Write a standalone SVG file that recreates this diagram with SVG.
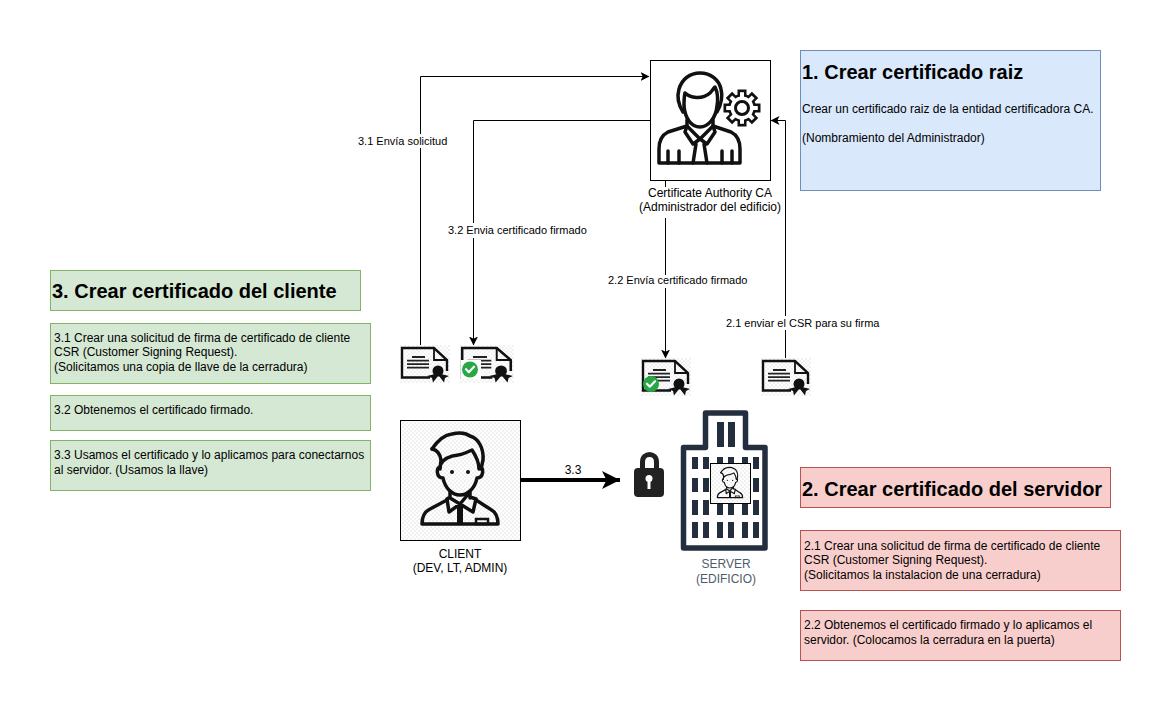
<svg xmlns="http://www.w3.org/2000/svg" width="1171" height="714" viewBox="0 0 1171 714">
<style>
text{font-family:"Liberation Sans",Arial,sans-serif;font-size:12px;fill:#000}
.t{font-size:20px;font-weight:bold}
.l{font-size:11px}
.m{text-anchor:middle}
.blue{fill:#dae8fc;stroke:#6c8ebf}
.green{fill:#d5e8d4;stroke:#82b366}
.red{fill:#f8cecc;stroke:#b85450}
.edge{fill:none;stroke:#000;stroke-width:1}
.ic{fill:none;stroke:#111;stroke-width:3.5;stroke-linejoin:round;stroke-linecap:round}
.win{fill:#232f3e}
</style>
<defs>
<pattern id="chk" width="4" height="4" patternUnits="userSpaceOnUse">
<rect width="4" height="4" fill="#fff"/><rect width="2" height="2" fill="#f1f1f1"/><rect x="2" y="2" width="2" height="2" fill="#f1f1f1"/>
</pattern>
<marker id="arr" markerWidth="10" markerHeight="10" refX="8.500" refY="4.500" orient="auto" markerUnits="userSpaceOnUse">
<path d="M0 0L9 4.500L0 9L2.200 4.500Z" fill="#000"/>
</marker>
<marker id="arrB" markerWidth="20" markerHeight="20" refX="18" refY="9" orient="auto" markerUnits="userSpaceOnUse">
<path d="M0 0L18 9L0 18L4.500 9Z" fill="#000"/>
</marker>
<g id="person">
<path class="ic" d="M32 29C38 20 44 15 52 14C60 12 66 13 70 16C78 18 84 28 83 40L81 49"/>
<path class="ic" d="M32 29C38 30 40 34 41 40L40 49M41 44C44 38 50 36 58 35C64 34 70 31 72 30C76 36 79 42 79 49"/>
<path class="ic" d="M40 47C36 47 36 58 43 58C45 68 52 75 60 75C68 75 75 68 77 58C84 58 84 47 80 47"/>
<circle cx="52" cy="52" r="2" fill="#111"/><circle cx="68" cy="52" r="2" fill="#111"/>
<path class="ic" d="M50 72L50 78L60 84L70 72M70 72L70 78M50 77L47 79L49 92L60 84L73 92L76 79L70 77"/>
<path class="ic" d="M47 80L30 89C24 92 22 98 22 104L98 104C98 98 96 92 90 89L76 80"/>
<path d="M57 87H63V104H57Z" fill="#111"/>
<rect x="76" y="99" width="12" height="5" fill="none" stroke="#111" stroke-width="2.500"/>
</g>
<g id="cert">
<rect width="50" height="38" fill="url(#chk)"/>
<path d="M30 32.500H2V3H34L47 15V26" fill="none" stroke="#111" stroke-width="2.400"/>
<path d="M34 3V15H47" fill="none" stroke="#111" stroke-width="1.800"/>
<path d="M12 12H25M7 15.700H29M7 19.200H29M7 22.700H29" fill="none" stroke="#222" stroke-width="1.800"/>
<circle cx="38" cy="26" r="5.500" fill="#111"/>
<path d="M35 29L27 31L32 33L33 37.500L38 31ZM41 29L49 31L45 33L44 37.500L39 31Z" fill="#111"/>
</g>
<g id="check">
<circle r="8" fill="#28a745"/>
<path d="M-4-.3L-1.200 2.700L4-2.800" fill="none" stroke="#fff" stroke-width="2.200" stroke-linecap="round" stroke-linejoin="round"/>
</g>
<rect id="tooth" x="-4.500" y="-18.500" width="9" height="8.500" fill="#111"/>
<rect id="toothw" x="-2" y="-15.800" width="4" height="7" fill="#fff"/>
</defs>
<rect width="1171" height="714" fill="#fff"/>
<g id="connectors">
<path class="edge" d="M420.500 345V76.500H649" marker-end="url(#arr)"/>
<path class="edge" d="M650 120.500H473.500V345" marker-end="url(#arr)"/>
<path class="edge" d="M665.500 181V358" marker-end="url(#arr)"/>
<path class="edge" d="M785.500 358V120.500H771" marker-end="url(#arr)"/>
<path d="M521 480H620" fill="none" stroke="#000" stroke-width="4" marker-end="url(#arrB)"/>
</g>
<g id="edge-labels">
<rect x="357" y="134" width="91" height="14" fill="#fff"/><text class="l" x="358" y="145">3.1 Envía solicitud</text>
<rect x="447" y="223" width="141" height="15" fill="#fff"/><text class="l" x="448" y="234">3.2 Envia certificado firmado</text>
<rect x="607" y="275" width="142" height="13" fill="#fff"/><text class="l" x="608" y="284">2.2 Envía certificado firmado</text>
<rect x="725" y="316" width="155" height="14" fill="#fff"/><text class="l" x="726" y="327">2.1 enviar el CSR para su firma</text>
<text x="573" y="474" class="m">3.3</text>
</g>
<g id="ca">
<rect x="650.500" y="60.500" width="120" height="120" fill="#fff" stroke="#000"/>
<g transform="translate(650 60)">
<path class="ic" d="M33 52C28 44 27 36 29 29C32 19 40 13 50 13C61 13 69 20 71 29C73 37 71 45 67 52"/>
<path class="ic" d="M35 33C40 38 52 40 60 33C62 31 63 29 65 27C68 33 68 40 67 46C66 58 58 67 50 67C41 67 35 58 34 46C34 41 34 37 35 33Z"/>
<path class="ic" d="M37 60V66L50 79L63 66V60M37 66L18 72C12 75 9 81 9 89V103H90V89C90 81 87 75 81 72L63 66"/>
<path class="ic" d="M37 66L35 72L43 84L50 79L57 84L65 72L63 66M46 84L43 103M54 84L57 103"/>
<path class="ic" d="M18 91V103M29 91V103M72 91V103M82 91V103"/>
<g transform="translate(92 48)">
<circle r="14" fill="#111"/>
<use href="#tooth"/><use href="#tooth" transform="rotate(45)"/><use href="#tooth" transform="rotate(90)"/><use href="#tooth" transform="rotate(135)"/><use href="#tooth" transform="rotate(180)"/><use href="#tooth" transform="rotate(225)"/><use href="#tooth" transform="rotate(270)"/><use href="#tooth" transform="rotate(315)"/>
<circle r="11.500" fill="#fff"/>
<use href="#toothw"/><use href="#toothw" transform="rotate(45)"/><use href="#toothw" transform="rotate(90)"/><use href="#toothw" transform="rotate(135)"/><use href="#toothw" transform="rotate(180)"/><use href="#toothw" transform="rotate(225)"/><use href="#toothw" transform="rotate(270)"/><use href="#toothw" transform="rotate(315)"/>
<circle r="6.500" fill="none" stroke="#111" stroke-width="3"/>
</g>
</g>
<rect x="640" y="187" width="140" height="31" fill="#fff"/>
<text class="m" x="710" y="197">Certificate Authority CA</text>
<text class="m" x="710" y="211">(Administrador del edificio)</text>
</g>
<g id="step1">
<rect class="blue" x="800.500" y="50.500" width="300" height="140"/>
<text class="t" x="802" y="79">1. Crear certificado raiz</text>
<text x="802" y="113">Crear un certificado raiz de la entidad certificadora CA.</text>
<text x="802" y="142">(Nombramiento del Administrador)</text>
</g>
<g id="step3-title"><rect class="green" x="50.500" y="270.500" width="310" height="40"/><text class="t" x="52" y="298">3. Crear certificado del cliente</text></g>
<g id="step3-1"><rect class="green" x="50.500" y="323.500" width="320" height="60"/>
<text x="54" y="342">3.1 Crear una solicitud de firma de certificado de cliente</text>
<text x="54" y="356">CSR (Customer Signing Request).</text>
<text x="54" y="371">(Solicitamos una copia de llave de la cerradura)</text></g>
<g id="step3-2"><rect class="green" x="50.500" y="395.500" width="320" height="35"/><text x="54" y="414">3.2 Obtenemos el certificado firmado.</text></g>
<g id="step3-3"><rect class="green" x="50.500" y="440.500" width="320" height="50"/>
<text x="54" y="459">3.3 Usamos el certificado y lo aplicamos para conectarnos</text>
<text x="54" y="474">al servidor. (Usamos la llave)</text></g>
<g id="step2-title"><rect class="red" x="800.500" y="467.500" width="310" height="40"/><text class="t" x="802" y="496">2. Crear certificado del servidor</text></g>
<g id="step2-1"><rect class="red" x="800.500" y="530.500" width="320" height="60"/>
<text x="804" y="550">2.1 Crear una solicitud de firma de certificado de cliente</text>
<text x="804" y="564">CSR (Customer Signing Request).</text>
<text x="804" y="579">(Solicitamos la instalacion de una cerradura)</text></g>
<g id="step2-2"><rect class="red" x="800.500" y="610.500" width="320" height="50"/>
<text x="804" y="629">2.2 Obtenemos el certificado firmado y lo aplicamos el</text>
<text x="804" y="644">servidor. (Colocamos la cerradura en la puerta)</text></g>
<g id="cert-csr-client"><use href="#cert" x="400" y="345"/></g>
<g id="cert-signed-client"><g transform="translate(460 345) scale(1.080 1)"><use href="#cert"/></g><rect x="461" y="360" width="20" height="19" fill="#fff"/><use href="#check" transform="translate(470 369.500)"/></g>
<g id="cert-signed-server"><use href="#cert" x="641" y="358"/><use href="#check" transform="translate(651 384)"/></g>
<g id="cert-csr-server"><use href="#cert" x="761" y="358"/></g>
<g id="client">
<rect x="400.500" y="420.500" width="120" height="120" fill="url(#chk)" stroke="#000"/>
<use href="#person" x="400" y="420"/>
<text class="m" x="460" y="558">CLIENT</text>
<text class="m" x="460" y="572">(DEV, LT, ADMIN)</text>
</g>
<g id="lock">
<path d="M642.500 470V462C642.500 452 656.500 452 656.500 462V470" fill="none" stroke="#222" stroke-width="5"/>
<rect x="634" y="468" width="30" height="29" rx="4" fill="#222"/>
<circle cx="649" cy="478.500" r="3.500" fill="#fff"/><path d="M647.500 479H650.500V489H647.500Z" fill="#fff"/>
</g>
<g id="server">
<path d="M683.500 548V447.500H705.500V413H745.500V447.500H765V548Z" fill="#fff" stroke="#232f3e" stroke-width="5.500" stroke-linejoin="round"/>
<path class="win" d="M717 422h7v25h-7zM728 422h7v25h-7zM692 457h6v12h-6zM703 457h6v12h-6zM717 457h6v12h-6zM728 457h6v12h-6zM742 457h6v12h-6zM753 457h6v12h-6zM692 478h6v14h-6zM703 478h6v14h-6zM717 478h6v14h-6zM728 478h6v14h-6zM742 478h6v14h-6zM753 478h6v14h-6zM692 500h6v15h-6zM703 500h6v15h-6zM717 500h6v15h-6zM728 500h6v15h-6zM742 500h6v15h-6zM753 500h6v15h-6zM692 522h6v16h-6zM703 522h6v16h-6zM717 522h6v16h-6zM728 522h6v16h-6zM742 522h6v16h-6zM753 522h6v16h-6z"/>
<rect x="710.500" y="463.500" width="40" height="40" fill="url(#chk)" stroke="#000"/>
<g transform="translate(710 463) scale(.333)"><use href="#person"/></g>
<text class="m" x="726" y="568" style="fill:#4f5d6c">SERVER</text>
<text class="m" x="726" y="583" style="fill:#4f5d6c">(EDIFICIO)</text>
</g>
</svg>
